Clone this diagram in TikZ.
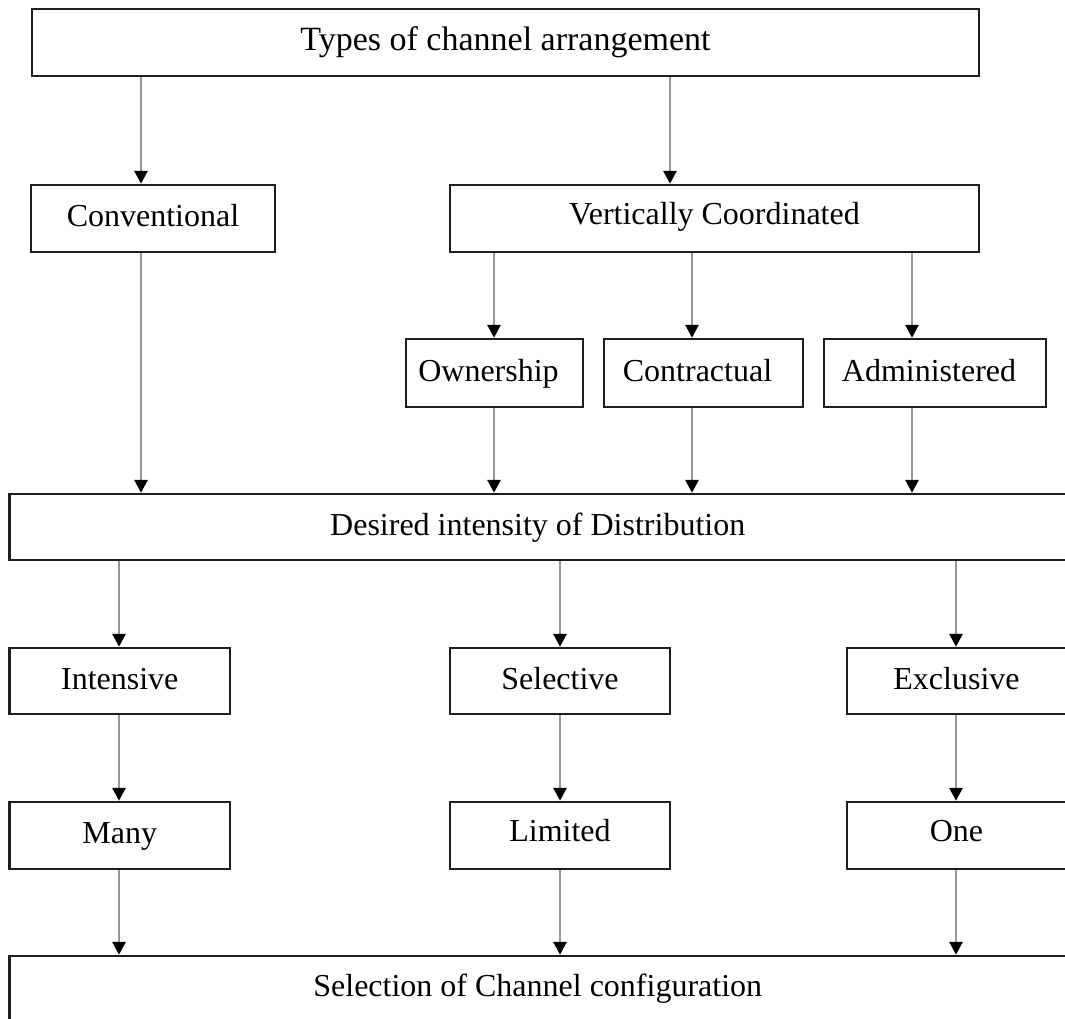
\documentclass[tikz,border=0pt]{standalone}
\usepackage{fontspec}
\setmainfont{Liberation Serif}
\usetikzlibrary{arrows.meta}
\definecolor{linegray}{RGB}{150,150,150}
\definecolor{boxline}{RGB}{30,30,30}
\begin{document}
\begin{tikzpicture}[x=0.5pt,y=-0.5pt,
  box/.style={draw=boxline, line width=1.2pt, fill=white, inner sep=0pt,
    text height=11.5pt, text depth=3.5pt,
    font=\fontsize{16}{19}\selectfont},
  hi/.style={text height=10.5pt, text depth=5pt},
  arr/.style={draw=linegray, line width=1.4pt,
    -{Triangle[width=6.5pt,length=6.5pt,color=black]}}]
\useasboundingbox (0,0) rectangle (1065,1018);
\clip (0,0) rectangle (1065,1018);

% nodes
\node[box, minimum width=473.5pt, minimum height=33.5pt, text height=12pt, text depth=3.7pt,
  font=\fontsize{17}{20}\selectfont] (top) at (505.5,42.5) {Types of channel arrangement};
\node[box, minimum width=122pt, minimum height=33.5pt] (conv) at (153,218.5) {Conventional};
\node[box, hi, minimum width=264.5pt, minimum height=33.5pt] (vc) at (714.5,218.5) {Vertically Coordinated};
\node[box, minimum width=88.5pt, minimum height=34pt] (own) at (494.5,373) {Ownership\hspace*{6pt}};
\node[box, minimum width=99.5pt, minimum height=34pt] (con) at (703.5,373) {Contractual\hspace*{6pt}};
\node[box, minimum width=111pt, minimum height=34pt] (adm) at (935,373) {Administered\hspace*{6pt}};
\node[box, minimum width=528.25pt, minimum height=33pt] (des) at (537.75,527) {Desired intensity of Distribution};
\node[box, minimum width=110.25pt, minimum height=33pt] (int) at (119.75,681) {Intensive};
\node[box, minimum width=110pt, minimum height=33pt] (sel) at (560,681) {Selective};
\node[box, minimum width=109.5pt, minimum height=33pt] (exc) at (956.5,681) {Exclusive};
\node[box, minimum width=110.25pt, minimum height=33.5pt] (many) at (119.75,835.5) {Many};
\node[box, hi, minimum width=110pt, minimum height=33.5pt] (lim) at (560,835.5) {Limited};
\node[box, hi, minimum width=109.5pt, minimum height=33.5pt] (one) at (956.5,835.5) {One};
\node[box, minimum width=528.25pt, minimum height=32pt] (selc) at (537.75,988) {Selection of Channel configuration};

% connector columns
\coordinate (xa) at (141,0);
\coordinate (xb) at (670,0);
\coordinate (xc) at (494,0);
\coordinate (xd) at (692,0);
\coordinate (xe) at (912,0);
\coordinate (xf) at (119,0);
\coordinate (xg) at (560,0);
\coordinate (xh) at (956,0);

% connectors
\draw[arr] (top.south -| xa) -- (conv.north -| xa);
\draw[arr] (top.south -| xb) -- (vc.north -| xb);
\draw[arr] (conv.south -| xa) -- (des.north -| xa);
\draw[arr] (vc.south -| xc) -- (own.north -| xc);
\draw[arr] (vc.south -| xd) -- (con.north -| xd);
\draw[arr] (vc.south -| xe) -- (adm.north -| xe);
\draw[arr] (own.south -| xc) -- (des.north -| xc);
\draw[arr] (con.south -| xd) -- (des.north -| xd);
\draw[arr] (adm.south -| xe) -- (des.north -| xe);
\draw[arr] (des.south -| xf) -- (int.north -| xf);
\draw[arr] (des.south -| xg) -- (sel.north -| xg);
\draw[arr] (des.south -| xh) -- (exc.north -| xh);
\draw[arr] (int.south -| xf) -- (many.north -| xf);
\draw[arr] (sel.south -| xg) -- (lim.north -| xg);
\draw[arr] (exc.south -| xh) -- (one.north -| xh);
\draw[arr] (many.south -| xf) -- (selc.north -| xf);
\draw[arr] (lim.south -| xg) -- (selc.north -| xg);
\draw[arr] (one.south -| xh) -- (selc.north -| xh);
\end{tikzpicture}
\end{document}
